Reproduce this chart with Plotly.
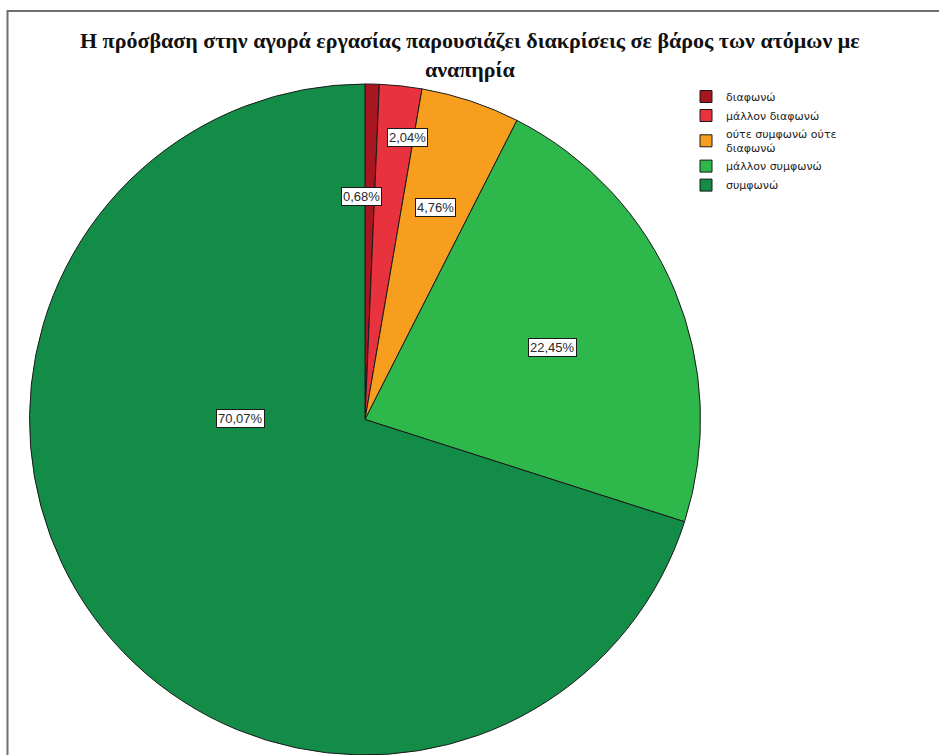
import math
import plotly.graph_objects as go

# ---- data ----
categories = ["διαφωνώ", "μάλλον διαφωνώ", "ούτε συμφωνώ ούτε<br>διαφωνώ", "μάλλον συμφωνώ", "συμφωνώ"]
percentages = [0.68, 2.04, 4.76, 22.45, 70.07]
title_text = ("<b>Η πρόσβαση στην αγορά εργασίας παρουσιάζει διακρίσεις σε βάρος των ατόμων με<br>"
              "αναπηρία</b>")

# ---- style ----
colors = ["#A8161F", "#E8323E", "#F79E1E", "#2EB84B", "#128C47"]
label_rfrac = [0.664, 0.85, 0.665, 0.60, 0.372]   # label distance as fraction of radius
label_dang = [-2.0, 2.4, 0.0, 1.6, 36.5]          # label angle offset (deg) from slice mid-angle

W, H = 939, 755
# pie domain in pixels
px_left, px_right = 29, 701
px_top, px_bottom = 84, 756
dom_x = [px_left / W, px_right / W]
dom_y = [max(0.0, (H - px_bottom) / H), (H - px_top) / H]

fig = go.Figure()
fig.add_trace(go.Pie(
    labels=categories,
    values=percentages,
    sort=False,
    direction="clockwise",
    rotation=0,
    marker=dict(colors=colors, line=dict(color="#1a1a1a", width=1)),
    textinfo="none",
    hoverinfo="label+percent",
    domain=dict(x=dom_x, y=dom_y),
    showlegend=True,
))

# compute label positions from data
cx = (px_left + px_right) / 2
radius = min(px_right - px_left, (H * (dom_y[1] - dom_y[0]))) / 2
cy_px = H - (dom_y[0] + dom_y[1]) / 2 * H
total = sum(percentages)
cum = 0.0
annotations = []
for i, v in enumerate(percentages):
    mid = (cum + v / 2) / total * 360.0
    cum += v
    ang = math.radians(mid + label_dang[i])
    r = label_rfrac[i] * radius
    x_px = cx + r * math.sin(ang)
    y_px = cy_px - r * math.cos(ang)
    annotations.append(dict(
        x=x_px / W, y=1 - y_px / H, xref="paper", yref="paper",
        text=f"{v:.2f}%".replace(".", ","),
        showarrow=False,
        font=dict(family="Liberation Sans, Arial, sans-serif", size=13, color="#2a2a2a"),
        bgcolor="white", bordercolor="#1a1a1a", borderwidth=1, borderpad=1,
        xanchor="center", yanchor="middle",
    ))

# title (single annotation, two lines)
annotations.append(dict(
    x=470 / W, y=1 - 55.5 / H, xref="paper", yref="paper",
    text=title_text, showarrow=False,
    xanchor="center", yanchor="middle", align="center",
    font=dict(family="Liberation Serif", size=22, color="#111111"),
))

frame_color = "#6f6f6f"
fig.update_layout(
    width=W, height=H,
    margin=dict(l=0, r=0, t=0, b=0),
    paper_bgcolor="white",
    plot_bgcolor="white",
    legend=dict(
        x=686 / W, y=1 - 82 / H, xanchor="left", yanchor="top",
        font=dict(family="DejaVu Sans, sans-serif", size=11, color="#222222"),
        itemwidth=30, tracegroupgap=0,
        bgcolor="rgba(0,0,0,0)",
    ),
    annotations=annotations,
    shapes=[
        dict(type="rect", xref="paper", yref="paper",
             x0=7.5 / W, x1=1.02, y0=-0.02, y1=1 - 11 / H,
             fillcolor="rgba(0,0,0,0)",
             line=dict(color=frame_color, width=2), layer="above"),
    ],
)

fig.write_html(
    "out.html",
    config={"displayModeBar": False},
    post_script="document.body.style.margin='0';document.body.style.padding='0';"
                "document.documentElement.style.overflow='hidden';window.scrollTo(0,0);",
)
